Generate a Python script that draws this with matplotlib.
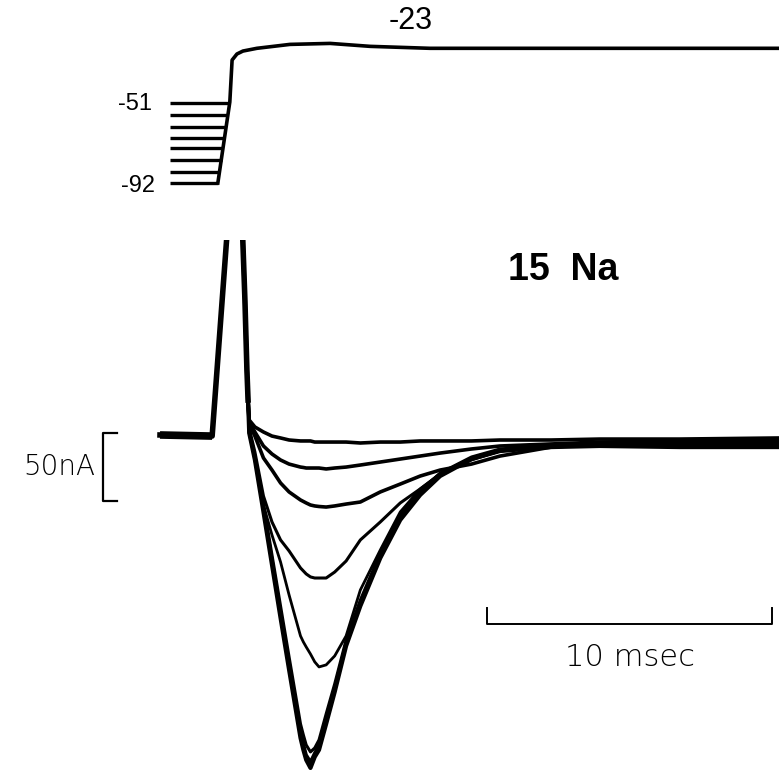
import numpy as np
import matplotlib.pyplot as plt

plt.rcParams['font.family'] = ['Liberation Sans', 'DejaVu Sans']

# time in msec from the start of the step
# voltage protocol (mV)
hold_v = [-92, -86, -80, -74, -69, -63, -57, -51]
hold_start = -1.58
hold_end = [0.10, 0.16, 0.23, 0.29, 0.34, 0.40, 0.46, 0.52]
step_t = [0.10, 0.52, 0.60, 0.77, 0.98, 1.47, 2.63, 4.04, 5.44, 7.54, 19.8]
step_v = [-91.8, -50.5, -29.1, -26.0, -24.5, -23.1, -21.1, -20.6, -22.1, -23.1, -23.1]

# membrane current (nA), capacitive spike shared by all sweeps
spike_t = [-1.93, -0.10, 0.46, 0.95, 1.05, 1.12, 1.16]
spike_i = [1.5, 0.7, 160.0, 160.0, 100.7, 49.3, 27.2]

trace_t = [1.2, 1.4, 1.7, 2.0, 2.3, 2.6, 3.0, 3.1, 3.2, 3.35, 3.5, 3.65, 3.9,
           4.2, 4.6, 5.1, 5.8, 6.5, 7.2, 7.9, 9.0, 10.0, 11.8, 13.5, 16.3, 19.8]
cur_51 = [12.5, 7.4, 3.7, 0.7, -0.7, -2.2, -2.9, -2.9, -2.9, -2.9, -3.7, -3.7, -3.7,
          -3.7, -3.7, -4.4, -3.7, -3.7, -2.9, -2.9, -2.9, -2.2, -2.2, -1.5, -1.5, -0.7]
cur_57 = [11.0, 3.7, -6.6, -12.5, -16.9, -19.9, -22.1, -22.4, -22.8, -22.8, -22.8, -22.8, -23.5,
          -22.8, -22.1, -20.6, -18.4, -16.2, -14.0, -11.8, -8.8, -6.6, -5.1, -3.7, -2.9, -2.2]
cur_63 = [9.6, 0.7, -15.4, -24.3, -33.8, -40.4, -46.3, -47.4, -48.5, -50.0, -50.7, -51.1, -51.5,
          -50.7, -49.3, -47.8, -40.4, -34.6, -28.7, -24.3, -19.9, -14.0, -7.4, -5.1, -3.7, -2.9]
cur_69 = [6.6, -11.0, -43.4, -62.5, -75.7, -83.8, -96.3, -98.5, -100.7, -102.9, -103.7, -103.7, -103.7,
          -99.3, -91.2, -75.7, -62.5, -48.5, -38.2, -27.2, -16.2, -10.3, -6.6, -5.1, -4.4, -3.7]
cur_74 = [5.1, -16.9, -50.0, -72.1, -91.9, -116.2, -146.3, -150.7, -154.4, -159.6, -165.4, -169.1, -167.6,
          -161.0, -146.3, -112.5, -83.1, -55.1, -38.2, -27.2, -16.9, -10.3, -6.6, -5.1, -4.4, -4.4]
cur_80 = [4.4, -14.0, -49.3, -86.8, -124.3, -161.8, -211.0, -219.1, -226.5, -231.6, -228.7, -222.8, -203.7,
          -181.6, -149.3, -119.9, -85.3, -57.4, -39.7, -26.5, -14.7, -8.8, -5.9, -5.1, -5.1, -5.9]
cur_86 = [3.7, -15.4, -52.2, -90.4, -128.7, -166.9, -216.9, -225.7, -233.8, -238.9, -232.4, -226.5, -207.4,
          -184.6, -151.5, -122.1, -86.8, -58.8, -40.4, -27.2, -15.4, -9.6, -6.6, -5.9, -5.9, -6.6]
cur_92 = [2.9, -16.9, -55.1, -94.1, -133.1, -171.3, -221.3, -230.1, -237.5, -243.4, -235.3, -230.1, -211.0,
          -187.5, -153.7, -124.3, -89.0, -61.0, -42.6, -28.7, -16.2, -10.3, -7.4, -6.6, -7.4, -7.4]

xlim = (-7.544, 19.79)

fig = plt.figure(figsize=(7.79, 7.70), dpi=100)

# voltage panel
axv = fig.add_axes([0, 560 / 770, 1, 210 / 770])
for v, te in zip(hold_v, hold_end):
    axv.plot([hold_start, te], [v, v], color='black', lw=2.4, solid_capstyle='butt')
axv.plot(step_t, step_v, color='black', lw=2.6)
axv.text(-2.2, -51.5, '-51', fontsize=17, ha='right', va='center')
axv.text(-2.1, -93.5, '-92', fontsize=17, ha='right', va='center')
axv.text(6.85, -9.0, '-23', fontsize=22, ha='center', va='center')
axv.set_xlim(xlim)
axv.set_ylim(-105.6, 1.55)
axv.axis('off')

# current panel
axi = fig.add_axes([0, 0, 1, 530 / 770])
axi.plot(spike_t[:2], spike_i[:2], color='black', lw=5.5, solid_capstyle='butt')
axi.plot(spike_t, spike_i, color='black', lw=4)
traces = [cur_51, cur_57, cur_63, cur_69, cur_74, cur_80, cur_86, cur_92]
widths = [2.6, 2.6, 2.6, 2.2, 2.0, 2.2, 2.4, 3.0]
for cur, w in zip(traces, widths):
    t = np.concatenate([spike_t[2:], trace_t])
    i = np.concatenate([spike_i[2:], cur])
    axi.plot(t, i, color='black', lw=w)

# 50 nA scale bracket
axi.plot([-3.44, -3.93, -3.93, -3.44], [3.0, 3.0, -47.0, -47.0], color='black', lw=1.6)
axi.text(-4.2, -22, '50nA', fontsize=20, ha='right', va='center',
         family=['DejaVu Sans'], fontweight='light')

# 10 msec scale bar
axi.plot([9.54, 9.54, 19.54, 19.54], [-125.7, -137.5, -137.5, -125.7], color='black', lw=1.4)
axi.text(14.55, -162.5, '10 msec', fontsize=22, ha='center', va='center',
         family=['DejaVu Sans'], fontweight='light')

axi.text(12.2, 122.8, '15  Na', fontsize=27, fontweight='bold', ha='center', va='center')
axi.set_xlim(xlim)
axi.set_ylim(-244.9, 144.9)
axi.axis('off')

fig.savefig('out.png', dpi=100)
